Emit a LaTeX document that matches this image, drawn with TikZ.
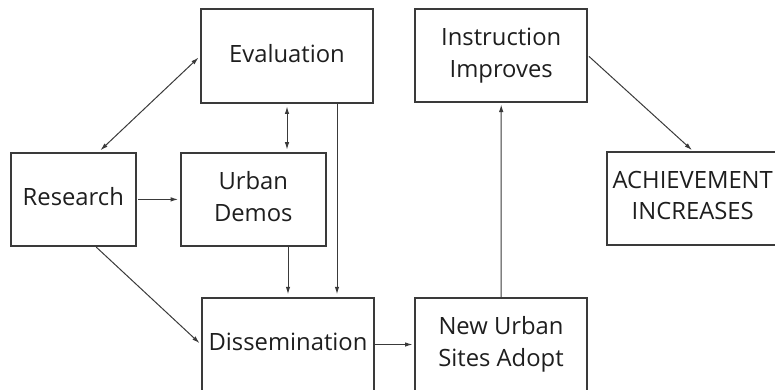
\documentclass[tikz,border=0pt]{standalone}
\usepackage{fontspec}
\setmainfont{Open Sans}
\usetikzlibrary{arrows.meta,calc}
\definecolor{linecol}{HTML}{3A3A3A}
\definecolor{textcol}{HTML}{1E1E1E}
\tikzset{
  box/.style={draw=linecol, line width=2pt, minimum width=172pt, minimum height=93.5pt,
    inner sep=0pt, align=center, text=textcol, text depth=6pt,
    font=\fontsize{23.8}{31.5}\selectfont},
  arr/.style={draw=linecol, line width=1pt, -{Latex[length=7.5pt,width=4.5pt]}},
  darr/.style={draw=linecol, line width=1pt, {Latex[length=7.5pt,width=4.5pt]}-{Latex[length=7.5pt,width=4.5pt]}}
}
\begin{document}
\begin{tikzpicture}[x=1pt,y=-1pt]
\useasboundingbox (0,0) rectangle (775,390);
\clip (0,0) rectangle (775,390);
\node[box] (eval) at (287,56.2) {Evaluation};
\node[box, minimum width=125.5pt] (res) at (73.3,199.4) {Research};
\node[box, minimum width=145.3pt] (urb) at (253.3,199.4) {Urban\\Demos};
\node[box] (diss) at (288,344.5) {Dissemination};
\node[box, minimum height=92.7pt] (instr) at (501.2,55.7) {Instruction\\Improves};
\node[box] (ach) at (692.7,198.5) {ACHIEVEMENT\\INCREASES};
\node[box] (new) at (501,344.5) {New Urban\\Sites Adopt};

\coordinate (rtop) at ($(res.north)+(25.7,0)$);
\draw[darr, shorten <=2pt, shorten >=2pt] (rtop) -- (eval.west);
\draw[darr, shorten <=2.5pt, shorten >=2pt] (eval.south) -- (eval.south |- urb.north);
\coordinate (e2) at ($(eval.south)+(50,0)$);
\draw[arr, shorten >=2.5pt] (e2) -- (e2 |- diss.north);
\draw[arr, shorten <=1pt, shorten >=1.5pt] (res.east) -- (urb.west);
\draw[arr, shorten >=2.5pt] (diss.north |- urb.south) -- (diss.north);
\coordinate (rbot) at ($(res.south)+(23,0)$);
\draw[arr, shorten >=2pt] (rbot) -- (diss.west);
\draw[arr, shorten >=1.5pt] (diss.east) -- (new.west);
\draw[arr, shorten >=1.5pt] (new.north) -- (instr.south);
\draw[arr, shorten <=1pt, shorten >=1pt] (instr.east) -- (ach.north);
\end{tikzpicture}
\end{document}
